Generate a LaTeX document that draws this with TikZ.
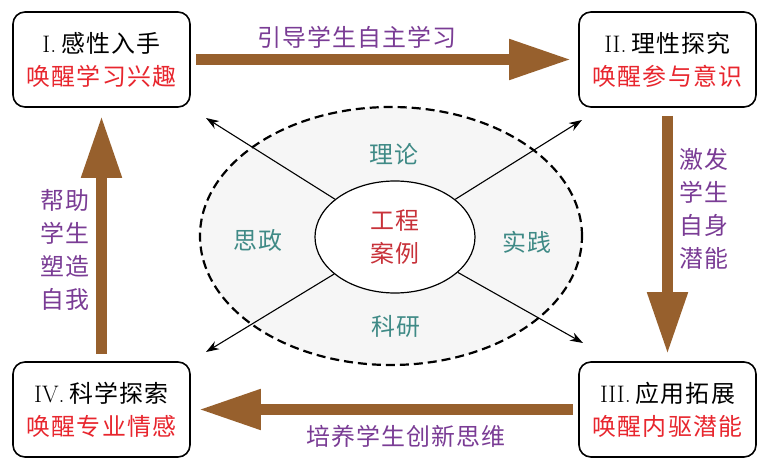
\documentclass[tikz,border=0pt]{standalone}
\usepackage{fontspec}
\newfontfamily\cjk[LetterSpace=5]{Noto Sans CJK SC}
\usetikzlibrary{arrows.meta,shapes.geometric}
\definecolor{arrowbrown}{HTML}{97602D}
\definecolor{labpurple}{HTML}{7A3C95}
\definecolor{wakered}{HTML}{E8262E}
\definecolor{casered}{HTML}{C8323A}
\definecolor{teallab}{HTML}{3F8A86}
\definecolor{ringfill}{HTML}{F6F6F6}
\begin{document}
\begin{tikzpicture}[x=1bp,y=-1bp,
  stagebox/.style={draw=black,line width=1.6bp,rounded corners=12bp,minimum width=177bp,minimum height=95bp,align=center,inner sep=0pt,font=\fontsize{24}{33}\selectfont},
  bigarrow/.style={draw=arrowbrown,line width=11bp,-{Triangle[length=62bp,width=38bp]}},
  thinarrow/.style={draw=black,line width=1.1bp,-{Stealth[length=13bp,width=9bp]}},
  purplelab/.style={text=labpurple,align=center,inner sep=0pt,font=\cjk\fontsize{24}{33}\selectfont},
  teallabel/.style={text=teallab,inner sep=0pt,font=\cjk\fontsize{24}{28}\selectfont}
]
\useasboundingbox[fill=white] (0,0) rectangle (762,459);

% central ellipses
\node[ellipse,draw=black,dash pattern=on 9bp off 5bp,line width=2.2bp,fill=ringfill,minimum width=382bp,minimum height=258bp,inner sep=0pt] (ring) at (391,236) {};
\node[ellipse,draw=black,line width=1.2bp,fill=white,minimum width=160bp,minimum height=112bp,inner sep=0pt,align=center,text=casered,font=\cjk\fontsize{24}{33}\selectfont] (core) at (395,237) {工程\\案例};

\node[teallabel] (theory) at (394,154) {理论};
\node[teallabel] (ideo) at (258,240) {思政};
\node[teallabel] (prac) at (527,242) {实践};
\node[teallabel] (rsch) at (396,326) {科研};

% stage boxes
\node[stagebox] (s1) at (101.5,59.5) {I.\kern5bp{\cjk 感性入手}\\{\cjk\color{wakered}唤醒学习兴趣}};
\node[stagebox] (s2) at (667.5,59.5) {II.\kern5bp{\cjk 理性探究}\\{\cjk\color{wakered}唤醒参与意识}};
\node[stagebox] (s3) at (667.5,409.5) {III.\kern5bp{\cjk 应用拓展}\\{\cjk\color{wakered}唤醒内驱潜能}};
\node[stagebox] (s4) at (101.5,409.5) {IV.\kern5bp{\cjk 科学探索}\\{\cjk\color{wakered}唤醒专业情感}};

% diagonal arrows
\coordinate (nw) at (206,118);
\coordinate (ne) at (582,120);
\coordinate (sw) at (206,352);
\coordinate (se) at (583,343);
\draw[thinarrow] (core) -- (nw);
\draw[thinarrow] (core) -- (ne);
\draw[thinarrow] (core) -- (sw);
\draw[thinarrow] (core) -- (se);

% big arrows
\draw[bigarrow,shorten <=5bp,shorten >=7bp] (s1.east) -- (s2.west);
\draw[bigarrow,shorten <=8bp,shorten >=7bp] (s2.south) -- (s3.north);
\draw[bigarrow,shorten <=5bp,shorten >=8bp] (s3.west) -- (s4.east);
\draw[bigarrow,shorten <=7bp,shorten >=8bp] (s4.north) -- (s1.south);

% arrow labels
\node[purplelab] (lab12) at (357,37) {引导学生自主学习};
\node[purplelab] (lab23) at (704,209) {激发\\学生\\自身\\潜能};
\node[purplelab] (lab34) at (406,436) {培养学生创新思维};
\node[purplelab] (lab41) at (65,250) {帮助\\学生\\塑造\\自我};
\end{tikzpicture}
\end{document}
